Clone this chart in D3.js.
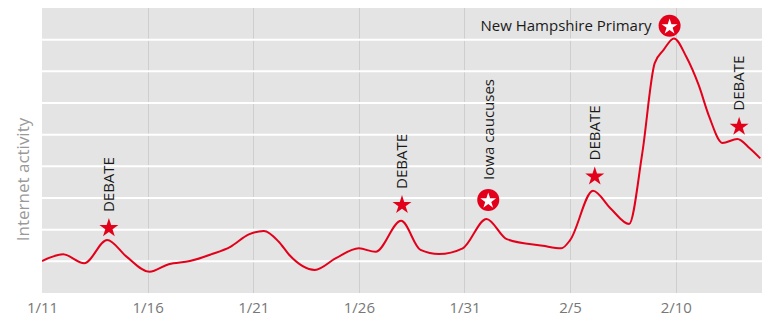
<!DOCTYPE html>
<html>
<head>
<meta charset="utf-8">
<style>
  body { margin: 0; background: #fff; }
  svg { display: block; font-family: "Open Sans", "DejaVu Sans", sans-serif; }
</style>
</head>
<body>
<script src="https://d3js.org/d3.v7.min.js"></script>
<script>
const width = 765;
const height = 316;
const margin = {top: 8, right: 3, bottom: 23, left: 42};

// activity series (timestamp, level)
const times = [
  "2016-01-11 00:00", "2016-01-12 00:00", "2016-01-13 00:00", "2016-01-14 02:00",
  "2016-01-15 00:00", "2016-01-16 02:00", "2016-01-17 00:00", "2016-01-18 00:00",
  "2016-01-19 00:00", "2016-01-19 22:00", "2016-01-20 19:00", "2016-01-21 12:00",
  "2016-01-22 05:00", "2016-01-22 17:00", "2016-01-23 22:00", "2016-01-24 22:00",
  "2016-01-26 00:00", "2016-01-26 19:00", "2016-01-28 00:00", "2016-01-28 22:00",
  "2016-01-29 19:00", "2016-01-30 22:00", "2016-02-01 01:00", "2016-02-02 00:00",
  "2016-02-03 17:00", "2016-02-04 14:00", "2016-02-05 00:00", "2016-02-06 02:00",
  "2016-02-06 22:00", "2016-02-07 19:00", "2016-02-08 10:00", "2016-02-09 00:00",
  "2016-02-09 10:00", "2016-02-09 22:00", "2016-02-10 12:00", "2016-02-11 02:00",
  "2016-02-11 14:00", "2016-02-12 05:00", "2016-02-12 22:00", "2016-02-13 12:00",
  "2016-02-14 00:00"
];
const activity = [
  1.01, 1.22, 0.94, 1.67,
  1.15, 0.67, 0.91, 1.01,
  1.22, 1.46, 1.85, 1.96,
  1.62, 1.20, 0.73, 1.10,
  1.41, 1.30, 2.28, 1.36,
  1.23, 1.41, 2.34, 1.70,
  1.49, 1.41, 1.67, 3.23,
  2.67, 2.18, 4.42, 7.25,
  7.67, 8.04, 7.46, 6.57,
  5.57, 4.74, 4.86, 4.57,
  4.25
];

// events
const eventTimes = ["2016-01-14 04:00", "2016-01-28 01:00", "2016-02-01 03:00",
                    "2016-02-06 04:00", "2016-02-09 17:00", "2016-02-13 00:00"];
const eventLabels = ["DEBATE", "DEBATE", "Iowa caucuses", "DEBATE", "New Hampshire Primary", "DEBATE"];
const eventLevels = [2.05, 2.78, 2.94, 3.68, 8.44, 5.25];
const eventCircled = [false, false, true, false, true, false];

const tickDates = ["2016-01-11", "2016-01-16", "2016-01-21", "2016-01-26", "2016-01-31", "2016-02-05", "2016-02-10"];
const tickLabels = ["1/11", "1/16", "1/21", "1/26", "1/31", "2/5", "2/10"];
const yTicks = [1, 2, 3, 4, 5, 6, 7, 8];

const red = "#e3001b";
const parseT = d3.timeParse("%Y-%m-%d %H:%M");
const parseD = d3.timeParse("%Y-%m-%d");

const data = times.map((t, i) => ({t: parseT(t), v: activity[i]}));
const events = eventTimes.map((t, i) => ({
  t: parseT(t), label: eventLabels[i], v: eventLevels[i], circled: eventCircled[i]
}));

const x = d3.scaleTime()
  .domain([parseT("2016-01-11 00:00"), parseT("2016-02-14 02:00")])
  .range([margin.left, width - margin.right]);
const y = d3.scaleLinear()
  .domain([0, 9])
  .range([height - margin.bottom, margin.top]);

const svg = d3.select("body").append("svg")
  .attr("width", width).attr("height", height);

svg.append("rect")
  .attr("x", margin.left).attr("y", margin.top)
  .attr("width", width - margin.left - margin.right)
  .attr("height", height - margin.top - margin.bottom)
  .attr("fill", "#e4e4e4");

// vertical grid
svg.append("g").selectAll("line").data(tickDates.slice(1)).join("line")
  .attr("x1", d => Math.round(x(parseD(d))) + 0.5)
  .attr("x2", d => Math.round(x(parseD(d))) + 0.5)
  .attr("y1", margin.top).attr("y2", height - margin.bottom)
  .attr("stroke", "#cecece").attr("stroke-width", 1);

// horizontal grid
svg.append("g").selectAll("line").data(yTicks).join("line")
  .attr("x1", margin.left).attr("x2", width - margin.right)
  .attr("y1", d => y(d)).attr("y2", d => y(d))
  .attr("stroke", "#fff").attr("stroke-width", 2);

// x axis labels
const xAxis = d3.axisBottom(x)
  .tickValues(tickDates.map(parseD))
  .tickFormat((d, i) => tickLabels[i])
  .tickSize(0).tickPadding(9);
const gx = svg.append("g")
  .attr("transform", `translate(0,${height - margin.bottom})`)
  .call(xAxis);
gx.select(".domain").remove();
gx.selectAll("text")
  .attr("fill", "#777")
  .style("font-size", "15px")
  .style("font-family", "'Open Sans', sans-serif");

// y label
svg.append("text")
  .attr("transform", `translate(29,${(margin.top + height - margin.bottom) / 2 + 29}) rotate(-90)`)
  .attr("text-anchor", "middle")
  .attr("fill", "#999")
  .style("font-size", "17px")
  .text("Internet activity");

// line
const line = d3.line()
  .x(d => x(d.t)).y(d => y(d.v))
  .curve(d3.curveMonotoneX);

svg.append("clipPath").attr("id", "clip")
  .append("rect")
  .attr("x", margin.left).attr("y", margin.top)
  .attr("width", width - margin.left - margin.right)
  .attr("height", height - margin.top - margin.bottom);

svg.append("path")
  .datum(data)
  .attr("clip-path", "url(#clip)")
  .attr("fill", "none")
  .attr("stroke", red)
  .attr("stroke-width", 2)
  .attr("d", line);

// event markers
const star = d3.symbol().type(d3.symbolStar);
const ev = svg.append("g").selectAll("g").data(events).join("g")
  .attr("transform", d => `translate(${x(d.t)},${y(d.v)})`);

ev.filter(d => !d.circled).append("path")
  .attr("d", star.size(112)())
  .attr("fill", red);

ev.filter(d => d.circled).append("circle")
  .attr("r", 11).attr("fill", red);
ev.filter(d => d.circled).append("path")
  .attr("d", star.size(78)())
  .attr("transform", "translate(0,1)")
  .attr("fill", "#fff");

// event labels
ev.filter(d => d.label !== "New Hampshire Primary").append("text")
  .attr("transform", d => `translate(0,${d.circled ? -20 : -16}) rotate(-90)`)
  .attr("dy", "0.35em")
  .attr("fill", "#1a1a1a")
  .style("font-size", "15px")
  .text(d => d.label);

ev.filter(d => d.label === "New Hampshire Primary").append("text")
  .attr("x", -18).attr("dy", "0.35em")
  .attr("text-anchor", "end")
  .attr("fill", "#1a1a1a")
  .style("font-size", "15px")
  .text(d => d.label);
</script>
</body>
</html>
